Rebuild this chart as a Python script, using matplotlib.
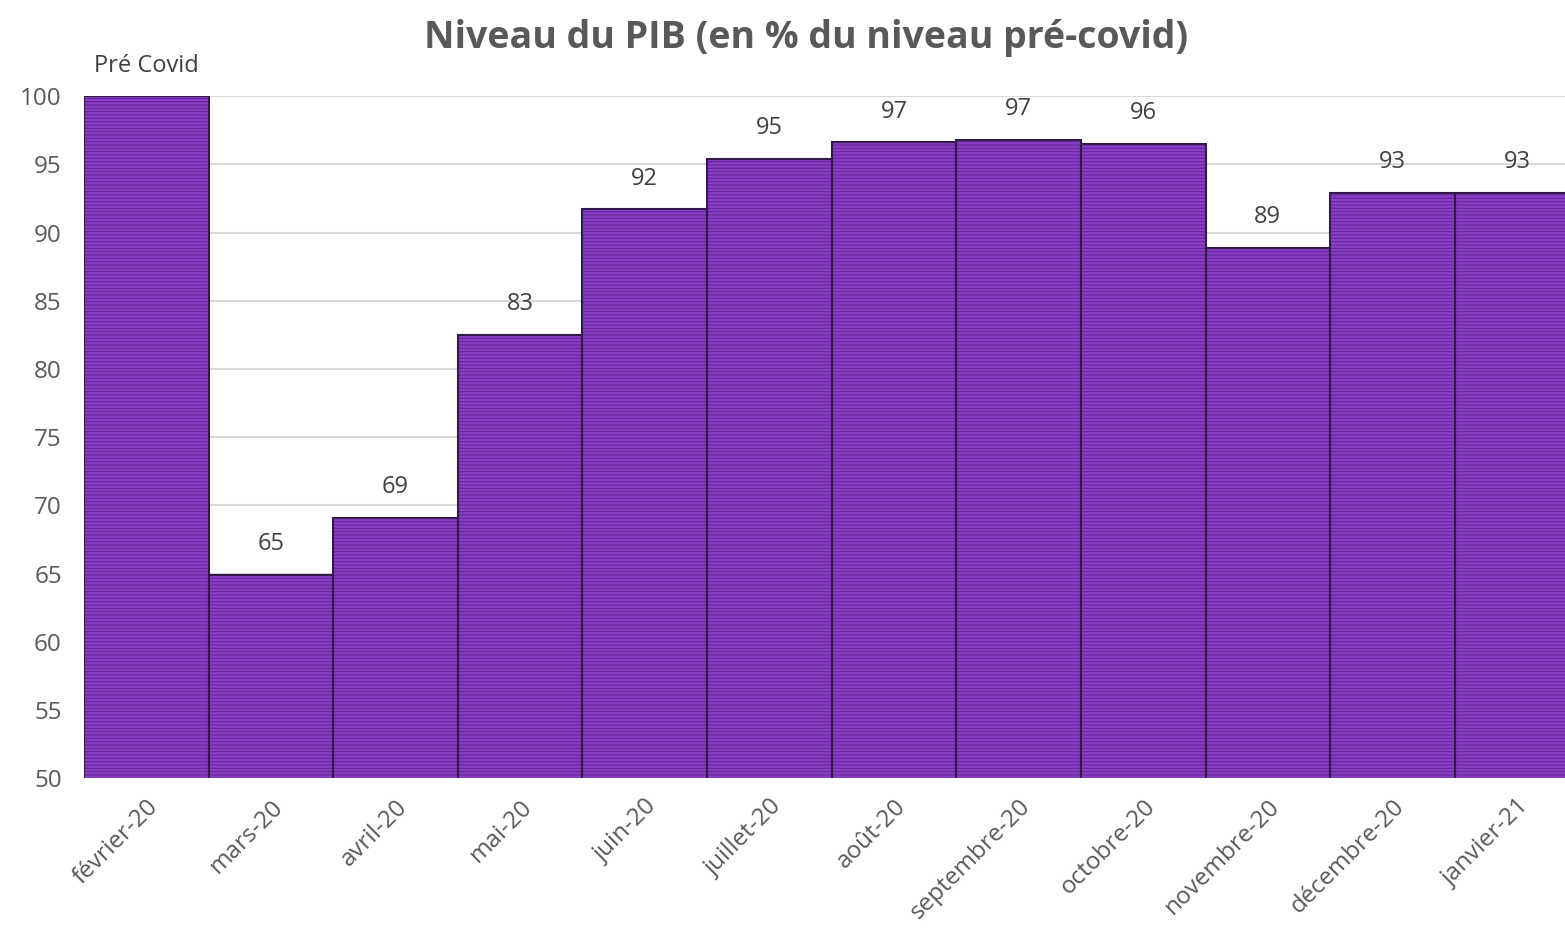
import numpy as np
import matplotlib
matplotlib.use("Agg")
import matplotlib.pyplot as plt

# Data
months = ["février-20", "mars-20", "avril-20", "mai-20", "juin-20", "juillet-20",
          "août-20", "septembre-20", "octobre-20", "novembre-20", "décembre-20", "janvier-21"]
gdp_level = [100, 64.9, 69.1, 82.5, 91.7, 95.4, 96.6, 96.8, 96.5, 88.9, 92.9, 92.9]
bar_labels = ["Pré Covid", "65", "69", "83", "92", "95", "97", "97", "96", "89", "93", "93"]
y_ticks = [50, 55, 60, 65, 70, 75, 80, 85, 90, 95, 100]

plt.rcParams['font.family'] = ['Open Sans', 'DejaVu Sans']
plt.rcParams['hatch.linewidth'] = 0.8

fig = plt.figure(figsize=(15.65, 9.33), dpi=100)
# plot area runs slightly past the right edge of the figure, as in the original
ax = fig.add_axes([0.0537, 0.166, 0.9555, 0.731])

x = np.arange(len(months))

# Gridlines behind bars
ax.set_axisbelow(True)
ax.yaxis.grid(True, color='#d9d9d9', linewidth=1.5)

# striped fill (hatch colour comes from edgecolor), then dark outline on top
ax.bar(x, gdp_level, width=1.0, color='#8a3fc6', edgecolor='#64289a',
       linewidth=0, hatch='-----', zorder=2)
ax.bar(x, gdp_level, width=1.0, fill=False, edgecolor='#33194a',
       linewidth=1.5, zorder=3)

for xi, val, lab in zip(x, gdp_level, bar_labels):
    ax.annotate(lab, (xi, val), xytext=(0, 22), textcoords='offset points',
                ha='center', va='center', fontsize=17, color='#404040')

ax.set_xlim(-0.5, len(months) - 0.5)
ax.set_ylim(50, 100)
ax.set_yticks(y_ticks)
ax.set_xticks(x)
ax.set_xticklabels(months, rotation=45, ha='right', rotation_mode='anchor')
ax.tick_params(axis='both', length=0, labelsize=17.5, labelcolor='#595959')
ax.tick_params(axis='x', pad=12)
ax.tick_params(axis='y', pad=16)
for s in ax.spines.values():
    s.set_visible(False)

fig.suptitle("Niveau du PIB (en % du niveau pré-covid)", x=0.515, y=0.98,
             fontsize=27, fontweight='bold', color='#595959')

fig.savefig("out.png", dpi=100)
